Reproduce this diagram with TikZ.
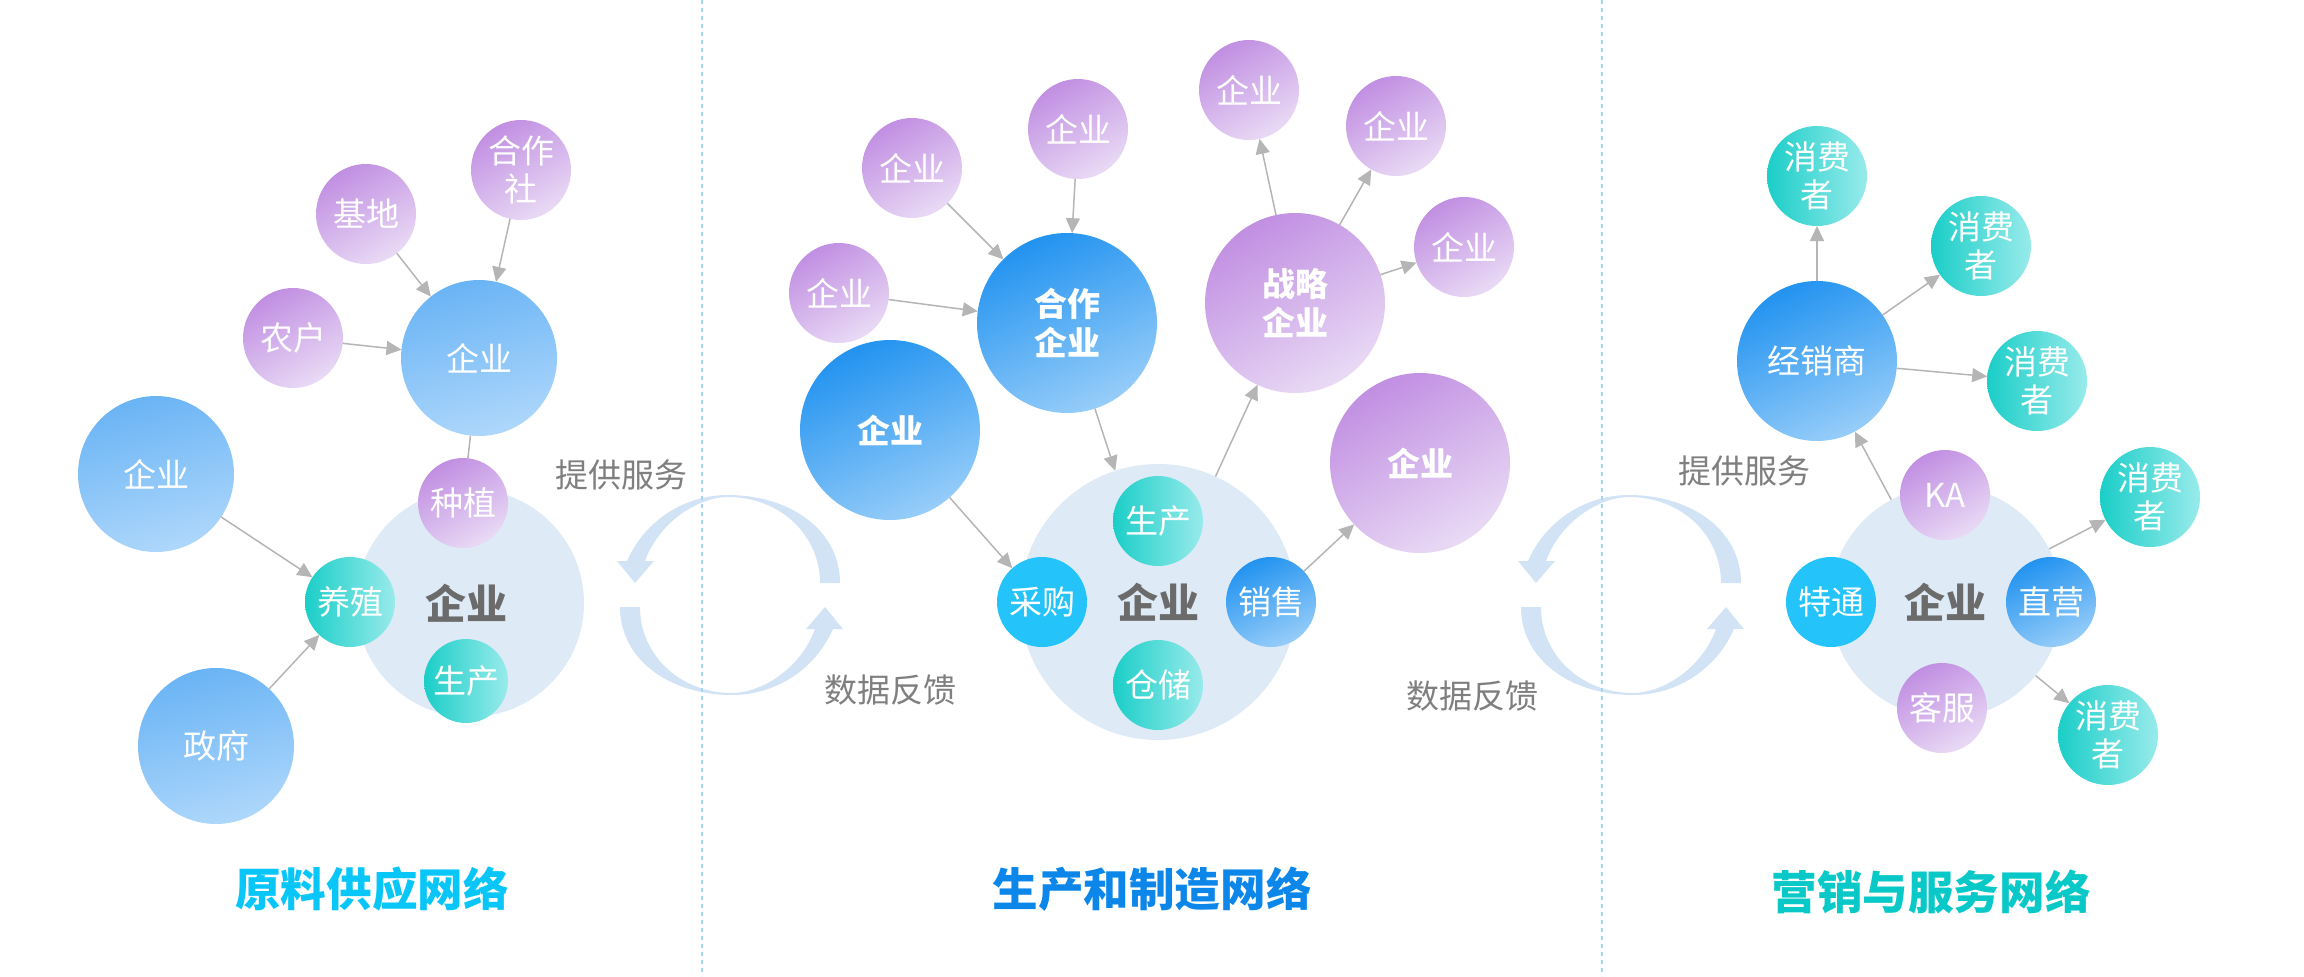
\documentclass[tikz,border=0pt]{standalone}
\usepackage{fontspec}
\newfontfamily\cjk{Noto Sans CJK SC}
\usetikzlibrary{arrows.meta}
\definecolor{purpA}{HTML}{C18FE2}
\definecolor{purpB}{HTML}{E9DAF5}
\definecolor{blueA}{HTML}{6AB4F5}
\definecolor{blueB}{HTML}{AED7FB}
\definecolor{deepA}{HTML}{2293F0}
\definecolor{deepB}{HTML}{97CDF9}
\definecolor{tealA}{HTML}{1BCEC8}
\definecolor{tealB}{HTML}{98EBEB}
\definecolor{cyanF}{HTML}{24C3FA}
\definecolor{hubF}{HTML}{DEEAF6}
\definecolor{cycF}{HTML}{D2E3F5}
\definecolor{arrG}{HTML}{B5B5B5}
\definecolor{txtG}{HTML}{7F7F7F}
\definecolor{sepC}{HTML}{A2D5F2}
\definecolor{titA}{HTML}{08C6F7}
\definecolor{titB}{HTML}{0C87E9}
\definecolor{titC}{HTML}{08C8C8}
\begin{document}
\begin{tikzpicture}[x=0.5pt,y=-0.5pt,
        bub/.style={circle,inner sep=0pt,outer sep=0pt,minimum size=#1pt,text=white,align=center,
          font=\cjk\fontsize{16.5}{19}\selectfont},
        bold/.style={font=\cjk\bfseries\fontsize{16.5}{19.5}\selectfont},
        purp/.style={bub=#1,top color=purpA,bottom color=purpB,shading angle=30},
        lblue/.style={bub=#1,top color=blueA,bottom color=blueB,shading angle=15},
        dblue/.style={bub=#1,top color=deepA,bottom color=deepB,shading angle=25},
        teal/.style={bub=#1,left color=tealA,right color=tealB},
        cyan/.style={bub=#1,fill=cyanF},
        hub/.style={circle,inner sep=0pt,outer sep=0pt,minimum size=#1pt,fill=hubF},
        hubtext/.style={text=black!58,font=\cjk\bfseries\fontsize{20.5}{24}\selectfont},
        arr/.style={draw=arrG,line width=0.75pt,-{Triangle[length=7.5pt,width=7pt]}},
        note/.style={text=txtG,font=\cjk\fontsize{16.5}{19}\selectfont},
        title/.style={font=\cjk\bfseries\fontsize{22.8}{27}\selectfont},
        cyc/.style={fill=cycF},
        sep/.style={draw=sepC,line width=1pt,dash pattern=on 2pt off 2pt}]
        \useasboundingbox (0,0) rectangle (2304,976);

        % feedback cycles
        \foreach \cx in {730,1631}
          \foreach \rot in {0,180}
            \fill[cyc,shift={(\cx,595)},rotate=\rot] (110,-12) .. controls (110,-65) and (60,-100) .. (-2,-100)
              .. controls (-45,-100) and (-85,-75) .. (-103,-34) -- (-113,-34) -- (-95,-12) -- (-76,-34) -- (-85,-34)
              .. controls (-70,-75) and (-30,-98) .. (-2,-98) .. controls (50,-98) and (90,-60) .. (90,-12) -- cycle;
        \draw[sep] (702,0) -- (702,976);
        \draw[sep] (1602,0) -- (1602,976);

        % raw material supply network
        \node[hub=114] (lhub) at (470,603) {};
        \node[hubtext] (lqy) at (466,603) {企业};
        \node[purp=45] (zz) at (463,503) {种植};
        \node[teal=45] (yz) at (350,602) {养殖};
        \node[teal=42] (lsc) at (466,681) {生产};
        \node[purp=50] (hzs) at (521,170) {合作\\社};
        \node[purp=50] (jd) at (366,214) {基地};
        \node[purp=50] (nh) at (293,338) {农户};
        \node[lblue=78] (lq) at (479,358) {企业};
        \node[lblue=78] (lq2) at (156,474) {企业};
        \node[lblue=78] (zf) at (216,746) {政府};
        \draw[arr] (jd) -- (lq);
        \draw[arr] (hzs) -- (lq);
        \draw[arr] (nh) -- (lq);
        \draw[draw=arrG,line width=0.75pt] (lq) -- (zz);
        \draw[arr] (lq2) -- (yz);
        \draw[arr] (zf) -- (yz);

        % production and manufacturing network
        \node[hub=138] (mhub) at (1158,602) {};
        \node[hubtext] (mqy) at (1158,602) {企业};
        \node[teal=45] (msc) at (1158,521) {生产};
        \node[cyan=45] (cg) at (1042,602) {采购};
        \node[dblue=45] (xs) at (1271,602) {销售};
        \node[teal=45] (cc) at (1158,685) {仓储};
        \node[purp=50] (mq1) at (839,293) {企业};
        \node[purp=50] (mq2) at (912,168) {企业};
        \node[purp=50] (mq3) at (1078,129) {企业};
        \node[dblue=90,bold] (hz) at (1067,323) {合作\\企业};
        \node[dblue=90,bold] (mbig) at (890,430) {企业};
        \node[purp=90,bold] (zl) at (1295,303) {战略\\企业};
        \node[purp=90,bold] (mpur) at (1420,463) {企业};
        \node[purp=50] (zq1) at (1249,90) {企业};
        \node[purp=50] (zq2) at (1396,126) {企业};
        \node[purp=50] (zq3) at (1464,247) {企业};
        \draw[arr] (mq1) -- (hz);
        \draw[arr] (mq2) -- (hz);
        \draw[arr] (mq3) -- (hz);
        \draw[arr] (hz) -- (mhub);
        \draw[arr] (mbig) -- (cg);
        \draw[arr] (mhub) -- (zl);
        \draw[arr] (xs) -- (mpur);
        \draw[arr] (zl) -- (zq1);
        \draw[arr] (zl) -- (zq2);
        \draw[arr] (zl) -- (zq3);

        % marketing and service network
        \node[hub=116] (rhub) at (1946,602) {};
        \node[hubtext] (rqy) at (1945,602) {企业};
        \node[purp=45] (ka) at (1945,495) {KA};
        \node[cyan=45] (tt) at (1831,602) {特通};
        \node[dblue=45] (zy) at (2051,602) {直营};
        \node[purp=45] (kf) at (1942,708) {客服};
        \node[dblue=80] (jxs) at (1817,361) {经销商};
        \node[teal=50] (x1) at (1817,176) {消费\\者};
        \node[teal=50] (x2) at (1981,246) {消费\\者};
        \node[teal=50] (x3) at (2037,381) {消费\\者};
        \node[teal=50] (x4) at (2150,497) {消费\\者};
        \node[teal=50] (x5) at (2108,735) {消费\\者};
        \draw[arr] (jxs) -- (x1);
        \draw[arr] (jxs) -- (x2);
        \draw[arr] (jxs) -- (x3);
        \draw[arr] (rhub) -- (jxs);
        \draw[arr] (rhub) -- (x4);
        \draw[arr] (rhub) -- (x5);

        % labels
        \node[note] (fw1) at (621,475) {提供服务};
        \node[note] (fk1) at (890,690) {数据反馈};
        \node[note] (fw2) at (1744,471) {提供服务};
        \node[note] (fk2) at (1472,696) {数据反馈};
        \node[title,text=titA] (t1) at (372,889) {原料供应网络};
        \node[title,text=titB] (t2) at (1152,889) {生产和制造网络};
        \node[title,text=titC] (t3) at (1931,892) {营销与服务网络};
      \end{tikzpicture}
\end{document}
